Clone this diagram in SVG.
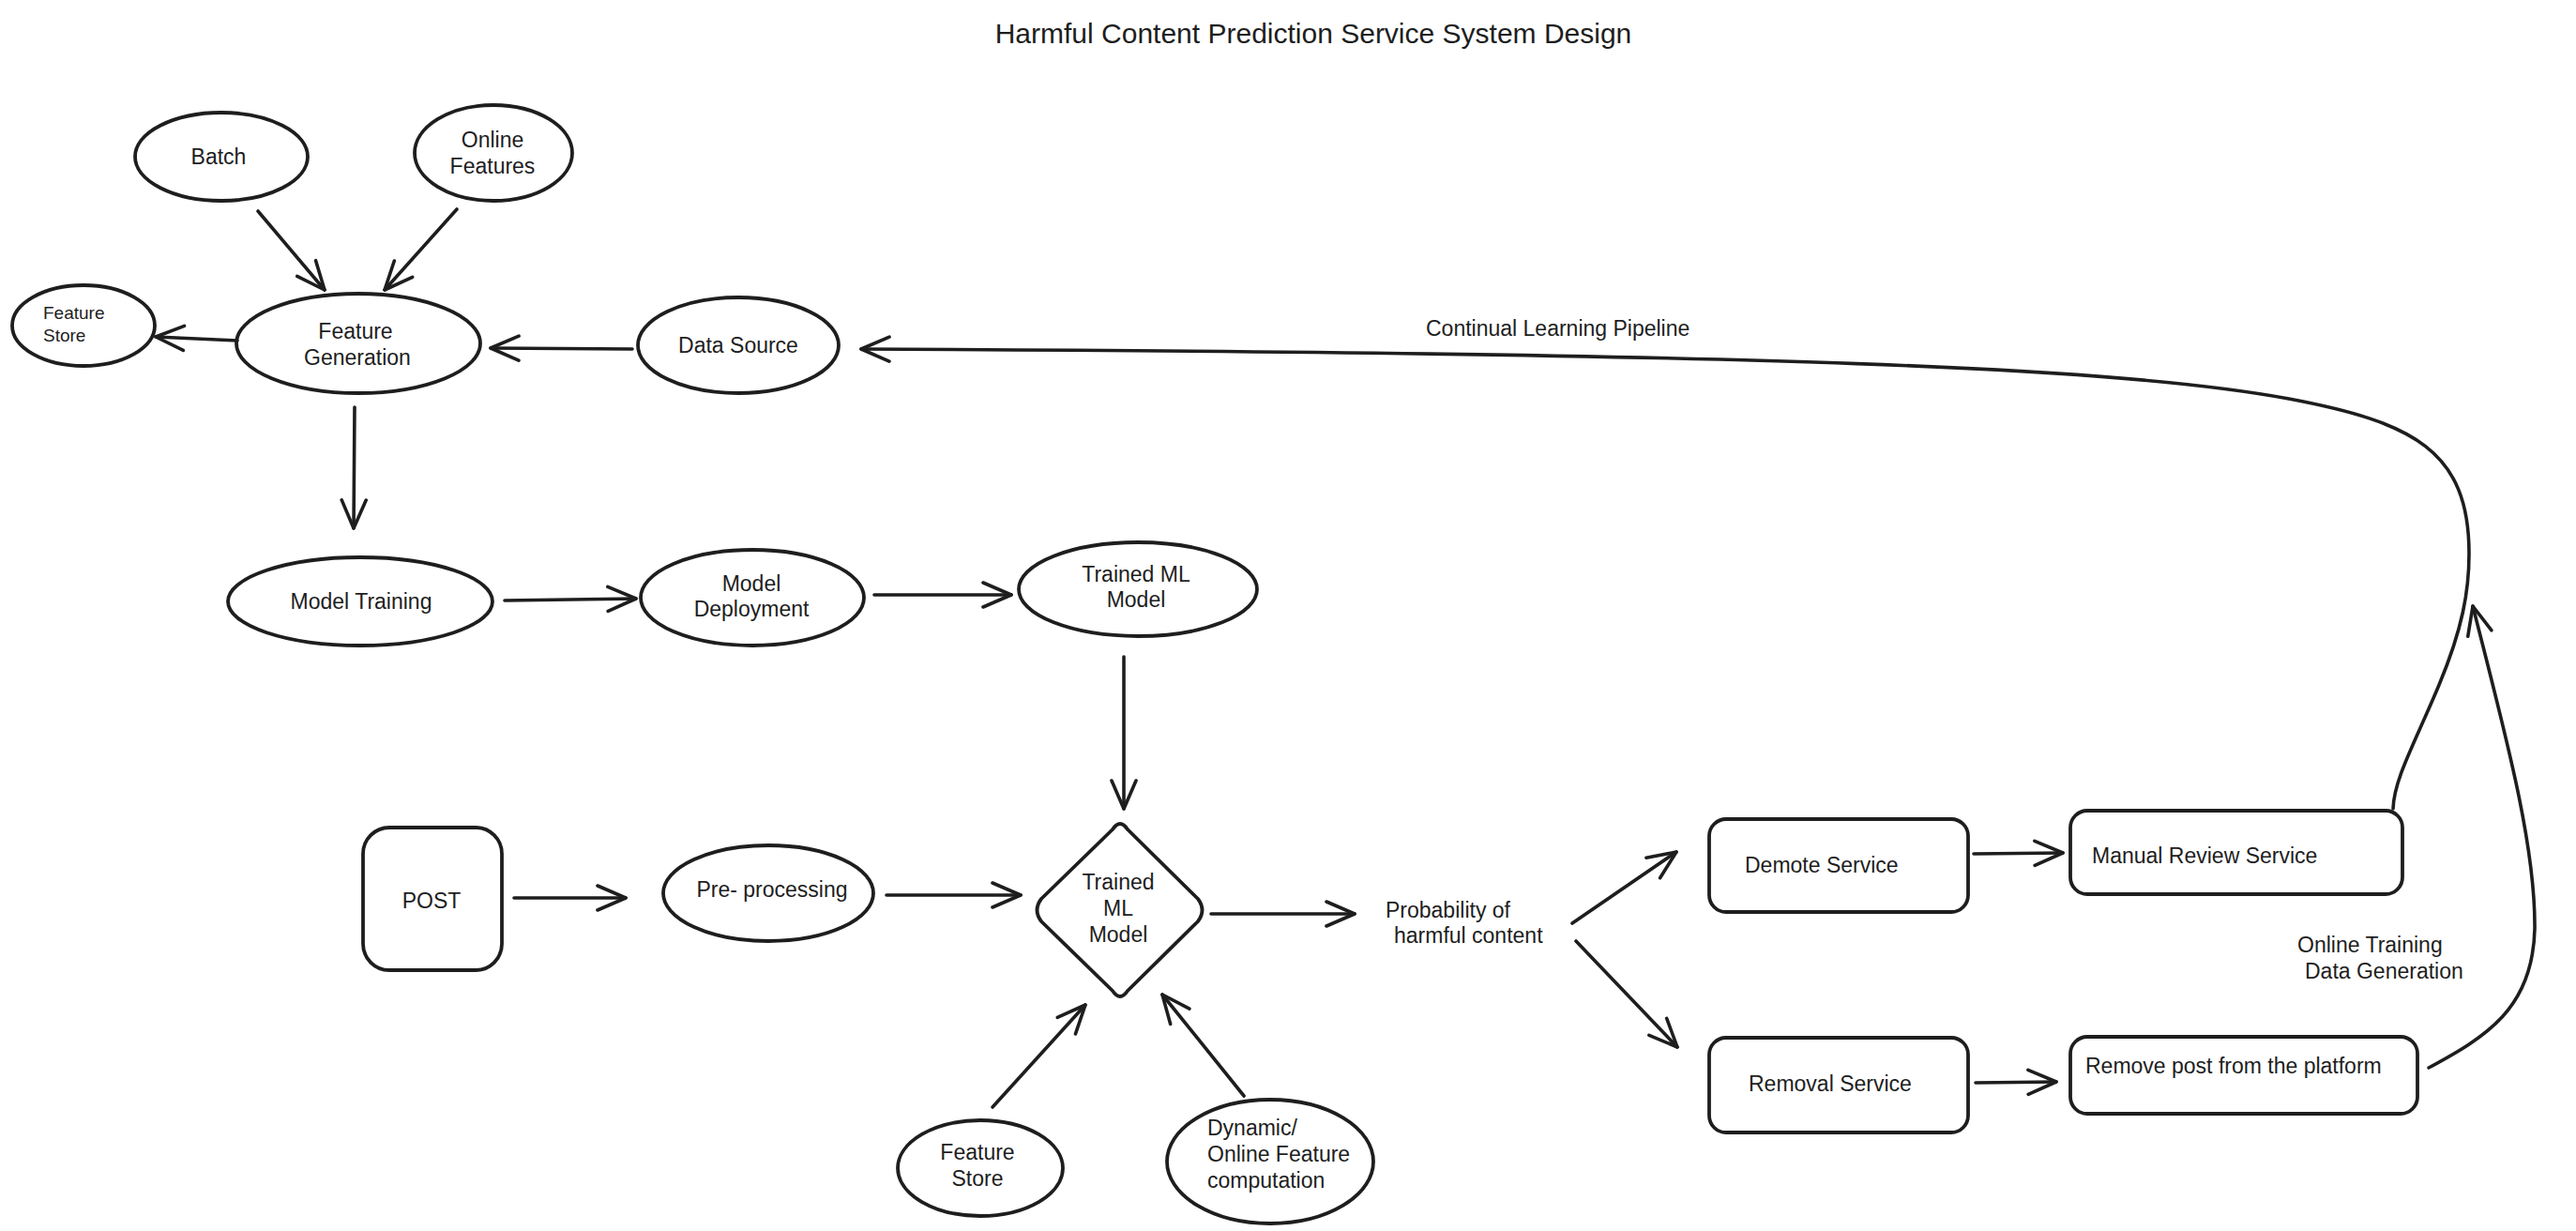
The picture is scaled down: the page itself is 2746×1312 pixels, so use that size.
<svg xmlns="http://www.w3.org/2000/svg" width="2746" height="1312" viewBox="0 0 2746 1312">
<defs>
<style>
.s{fill:none;stroke:#1e1e1e;stroke-width:3.8;stroke-linejoin:round;stroke-linecap:round}
.c{fill:none;stroke:#1e1e1e;stroke-width:3.6;stroke-linecap:round;marker-end:url(#ah)}
text{font-family:"Liberation Sans",Arial,sans-serif;fill:#1e1e1e;font-size:23px}
.m{text-anchor:middle}
.sm{font-size:19px}
.t{font-size:30px}
</style>
<marker id="ah" viewBox="-34 -16 36 32" refX="0" refY="0" markerWidth="36" markerHeight="32" markerUnits="userSpaceOnUse" orient="auto">
<path d="M-30,-13 L0,0 L-30,13" fill="none" stroke="#1e1e1e" stroke-width="3.6" stroke-linecap="round" stroke-linejoin="round"/>
</marker>
</defs>
<rect width="2746" height="1312" fill="#ffffff"/>

<text id="title" class="t m" x="1400" y="46">Harmful Content Prediction Service System Design</text>

<g id="batch"><ellipse class="s" cx="236" cy="167" rx="92" ry="47"/><text class="m" x="233" y="175">Batch</text></g>
<g id="online-features"><ellipse class="s" cx="526" cy="163" rx="84" ry="51"/><text class="m" x="525" y="157">Online</text><text class="m" x="525" y="185">Features</text></g>
<g id="feature-store-top"><ellipse class="s" cx="89" cy="347" rx="76" ry="43"/><text class="sm" x="46" y="340">Feature</text><text class="sm" x="46" y="364">Store</text></g>
<g id="feature-generation"><ellipse class="s" cx="382" cy="366" rx="130" ry="53"/><text class="m" x="379" y="361">Feature</text><text class="m" x="381" y="389">Generation</text></g>
<g id="data-source"><ellipse class="s" cx="787" cy="368" rx="107" ry="51"/><text class="m" x="787" y="376">Data Source</text></g>
<g id="model-training"><ellipse class="s" cx="384" cy="641" rx="141" ry="47"/><text class="m" x="385" y="649">Model Training</text></g>
<g id="model-deployment"><ellipse class="s" cx="802" cy="637" rx="119" ry="51"/><text class="m" x="801" y="630">Model</text><text class="m" x="801" y="657">Deployment</text></g>
<g id="trained-ml-model"><ellipse class="s" cx="1213" cy="628" rx="127" ry="50"/><text class="m" x="1211" y="620">Trained ML</text><text class="m" x="1211" y="647">Model</text></g>
<g id="post"><rect class="s" x="387" y="882" width="148" height="152" rx="28"/><text class="m" x="460" y="968">POST</text></g>
<g id="pre-processing"><ellipse class="s" cx="819" cy="952" rx="112" ry="51"/><text class="m" x="823" y="956">Pre- processing</text></g>
<g id="ml-model-diamond"><path class="s" d="M1186,884 Q1194,872 1202,884 L1277,958 Q1286,970 1277,982 L1202,1056 Q1194,1068 1186,1056 L1110,982 Q1101,970 1110,958 Z"/><text class="m" x="1192" y="948">Trained</text><text class="m" x="1192" y="976">ML</text><text class="m" x="1192" y="1004">Model</text></g>
<g id="feature-store-bottom"><ellipse class="s" cx="1045" cy="1245" rx="88" ry="51"/><text class="m" x="1042" y="1236">Feature</text><text class="m" x="1042" y="1264">Store</text></g>
<g id="dynamic-feature"><ellipse class="s" cx="1354" cy="1238" rx="110" ry="66"/><text x="1287" y="1210">Dynamic/</text><text x="1287" y="1238">Online Feature</text><text x="1287" y="1266">computation</text></g>
<g id="probability"><text x="1477" y="978">Probability of</text><text x="1486" y="1005">harmful content</text></g>
<g id="demote-service"><rect class="s" x="1822" y="873" width="276" height="99" rx="18"/><text x="1860" y="930">Demote Service</text></g>
<g id="manual-review"><rect class="s" x="2207" y="864" width="354" height="89" rx="18"/><text x="2230" y="920">Manual Review Service</text></g>
<g id="removal-service"><rect class="s" x="1822" y="1106" width="276" height="101" rx="18"/><text x="1864" y="1163">Removal Service</text></g>
<g id="remove-post"><rect class="s" x="2207" y="1105" width="370" height="82" rx="18"/><text x="2223" y="1144">Remove post from the platform</text></g>

<g id="connectors">
<path class="c" d="M275,225 L346,309"/>
<path class="c" d="M487,223 L410,309"/>
<path class="c" d="M253,363 L166,359"/>
<path class="c" d="M674,372 L523,371"/>
<path class="c" d="M378,434 L377,563"/>
<path class="c" d="M538,640 L678,638"/>
<path class="c" d="M932,634 L1078,634"/>
<path class="c" d="M1198,700 L1198,862"/>
<path class="c" d="M548,957 L667,957"/>
<path class="c" d="M945,954 L1088,954"/>
<path class="c" d="M1291,974 L1444,974"/>
<path class="c" d="M1058,1180 L1157,1071"/>
<path class="c" d="M1326,1168 L1239,1060"/>
<path class="c" d="M1676,984 L1787,908"/>
<path class="c" d="M1680,1003 L1788,1116"/>
<path class="c" d="M2104,910 L2199,909"/>
<path class="c" d="M2106,1154 L2192,1153"/>
<path class="c" d="M2589,1138 C2650,1105 2700,1075 2702,990 C2703,900 2670,780 2636,646"/>
<path class="c" d="M2551,862 C2552,830 2575,790 2600,730 C2625,670 2632,630 2632,590 C2632,480 2572,450 2440,425 C2260,392 1900,376 918,372"/>
<text x="1520" y="358">Continual Learning Pipeline</text>
<text x="2449" y="1015">Online Training</text>
<text x="2457" y="1043">Data Generation</text>
</g>
</svg>
